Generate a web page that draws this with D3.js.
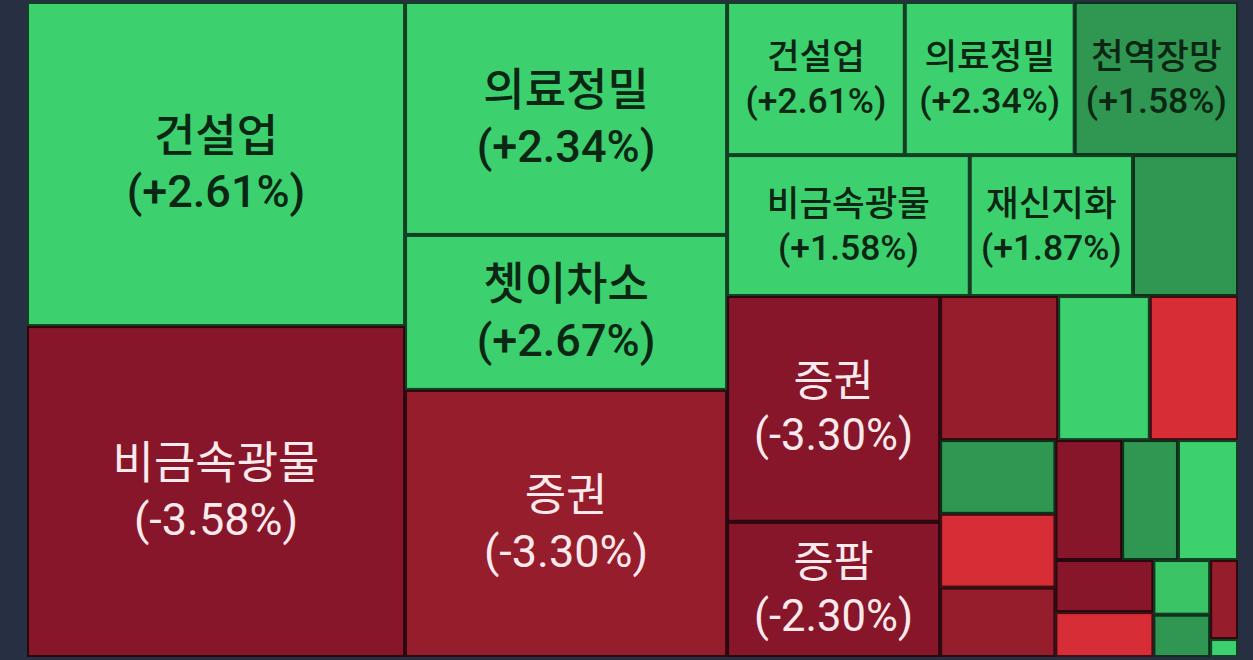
<!DOCTYPE html>
<html>
<head>
<meta charset="utf-8">
<script src="https://cdn.jsdelivr.net/npm/d3@7"></script>
<style>
  html, body { margin: 0; background: #263042; }
  svg { display: block; }
</style>
</head>
<body>
<svg></svg>
<script>
const w = 1253;
const h = 660;

// [sector, change %, weight, tone]
const leftCol = [
  ["건설업", 2.61, 1225, "up"],
  ["비금속광물", -3.58, 1251, "down3"]
];
const midCol = [
  ["의료정밀", 2.34, 750, "up"],
  ["쳇이차소", 2.67, 499, "up"],
  ["증권", -3.3, 860, "down2"]
];
const topRow = [
  ["건설업", 2.61, 272, "up"],
  ["의료정밀", 2.34, 260, "up"],
  ["천역장망", 1.58, 250, "mid"]
];
const secondRow = [
  ["비금속광물", 1.58, 342, "up"],
  ["재신지화", 1.87, 230, "up"],
  ["", null, 148, "mid"]
];
const lowerLeft = [
  ["증권", -3.3, 481, "down3"],
  ["증팜", -2.3, 288, "down3"]
];
// unlabeled small sectors
const smallRow = [["", null, 170, "down2"], ["", null, 132, "up"], ["", null, 127, "down1"]];
const smallCol = [["", null, 85, "mid"], ["", null, 85, "down1"], ["", null, 80, "down2"]];
const tinyRow = [["", null, 80, "down3"], ["", null, 67, "mid"], ["", null, 72, "up"]];
const tinyA = [["", null, 51, "down3"], ["", null, 44, "down1"]];
const tinyB = [["", null, 31, "up2"], ["", null, 24, "mid"]];
const tinyC = [["", null, 22, "down2"], ["", null, 5, "up"]];

const leaf = (d) => ({ name: d[0], pct: d[1], value: d[2], tone: d[3] });
const grp = (...kids) => ({ children: kids });
const rows = (arr) => ({ children: arr.map(leaf) });

const tree = grp(
  rows(leftCol),
  rows(midCol),
  grp(
    rows(topRow),
    rows(secondRow),
    grp(
      rows(lowerLeft),
      grp(
        rows(smallRow),
        grp(
          rows(smallCol),
          grp(
            rows(tinyRow),
            grp(rows(tinyA), rows(tinyB), rows(tinyC))
          )
        )
      )
    )
  )
);

var color = d3.scaleOrdinal()
  .domain(["up", "up2", "mid", "down1", "down2", "down3"])
  .range(["#3dd06e", "#3ac466", "#2f9752", "#d62d37", "#961d2b", "#87162a"]);

var fmt = d3.formatLocale({ decimal: ".", thousands: ",", grouping: [3], currency: ["", ""], minus: "-" })
  .format("+.2f");

var svg = d3.select("svg").attr("width", w).attr("height", h);

var root = d3.hierarchy(tree).sum(d => d.value || 0);

d3.treemap()
  .tile(d3.treemapSliceDice)
  .size([1211, 655])
  (root);

var g = svg.append("g").attr("transform", "translate(27,2)");

var cells = g.selectAll("g.cell")
  .data(root.leaves())
  .join("g")
  .attr("class", "cell");

cells.append("rect")
  .attr("x", d => d.x0 + 1)
  .attr("y", d => d.y0 + 1)
  .attr("width", d => Math.max(0, d.x1 - d.x0 - 2))
  .attr("height", d => Math.max(0, d.y1 - d.y0 - 2))
  .attr("fill", d => color(d.data.tone))
  .attr("stroke", d => d3.color(color(d.data.tone)).darker(3.3))
  .attr("stroke-width", 2);

// labels share one font size within a group
function fitSize(d) {
  return Math.min(45, (d.y1 - d.y0) / 3.1, (d.x1 - d.x0) / 4.6);
}
function groupSize(d) {
  const sibs = d.parent.children.filter(s => s.data.name);
  return d3.min(sibs, fitSize);
}

var labelled = cells.filter(d => d.data.name);

labelled.each(function (d) {
  const fs = groupSize(d);
  const cx = (d.x0 + d.x1) / 2;
  const cy = (d.y0 + d.y1) / 2;
  const up = d.data.pct >= 0;
  const t = d3.select(this).append("text")
    .attr("text-anchor", "middle")
    .attr("font-family", "Roboto, 'Noto Sans CJK KR', sans-serif")
    .attr("font-size", fs)
    .attr("font-weight", up ? 500 : 400)
    .attr("fill", up ? "#0b2613" : "#fbe9ec");
  t.append("tspan")
    .attr("x", cx).attr("y", cy - fs * 0.62)
    .attr("dominant-baseline", "central")
    .text(d.data.name);
  t.append("tspan")
    .attr("x", cx).attr("y", cy + fs * 0.62)
    .attr("dominant-baseline", "central")
    .text("(" + fmt(d.data.pct) + "%)");
});
</script>
</body>
</html>
